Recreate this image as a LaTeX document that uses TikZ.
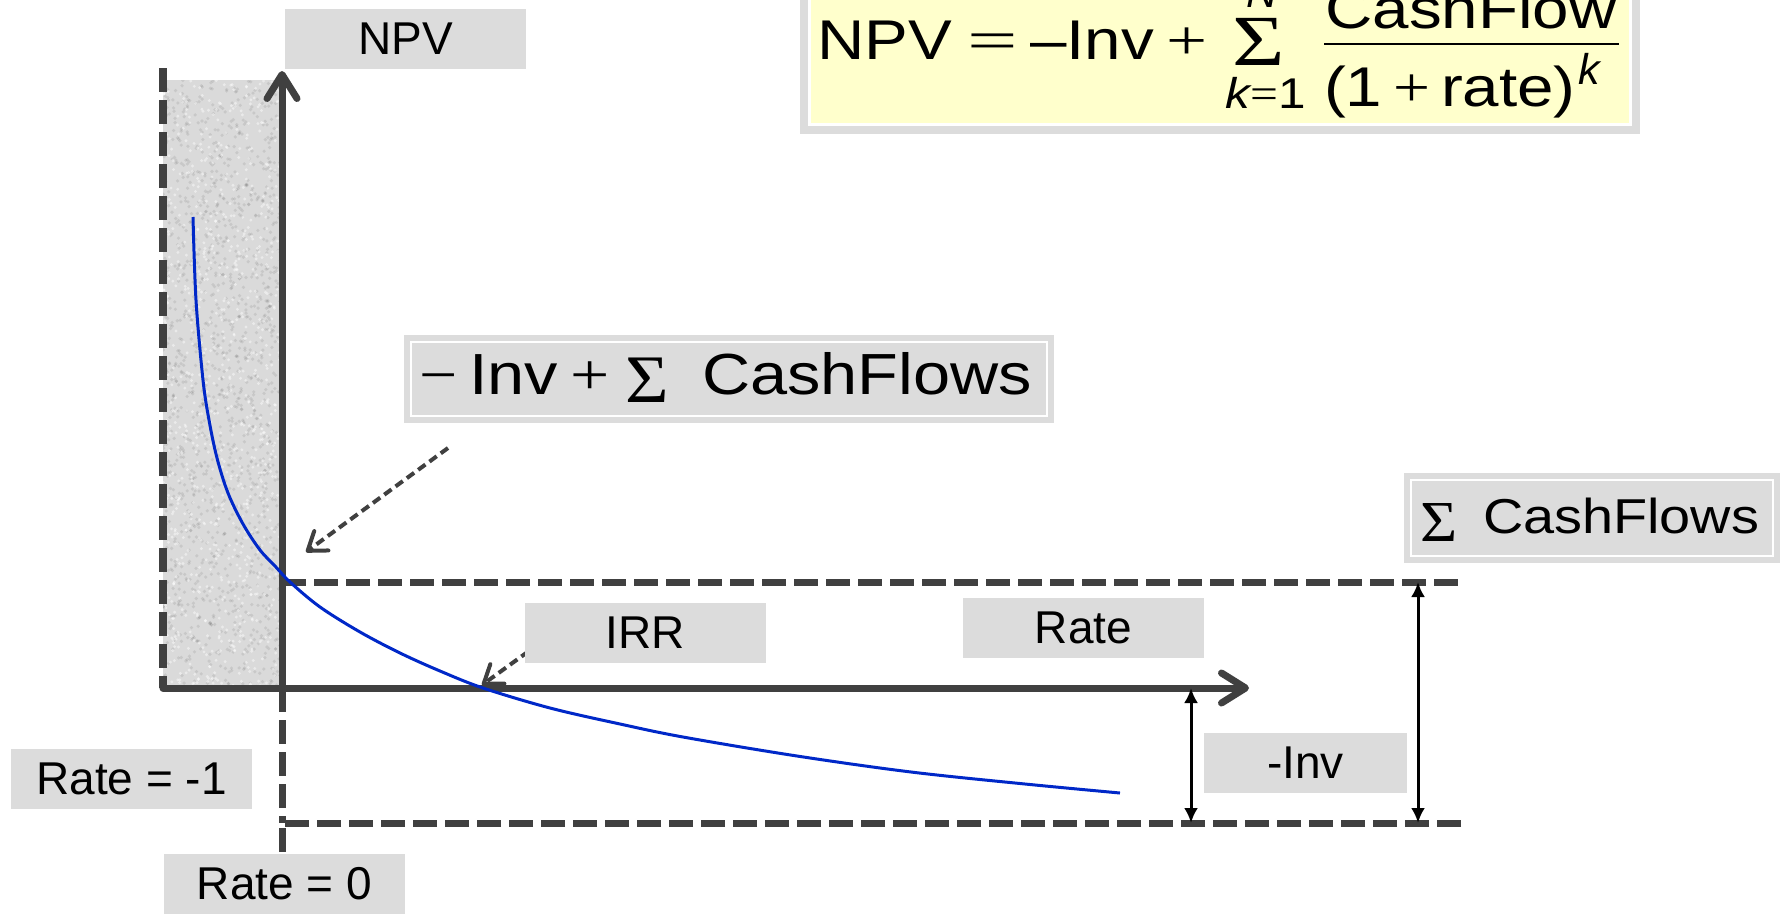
\documentclass[tikz,border=0pt]{standalone}
\usepackage{graphicx}
\usepackage{fontspec}
\setmainfont{Liberation Sans}
\newfontfamily\symfont{Liberation Serif}
\usetikzlibrary{arrows.meta}
\definecolor{lblgray}{RGB}{220,220,220}
\definecolor{shadegray}{RGB}{218,218,218}
\definecolor{axisgray}{RGB}{64,64,64}
\definecolor{curveblue}{RGB}{0,40,200}
\definecolor{formulayellow}{RGB}{255,255,204}
\begin{document}
\begin{tikzpicture}[x=1pt,y=-1pt,
  lbl/.style={fill=lblgray, inner sep=0pt, minimum height=60pt, font=\fontsize{46}{50}\selectfont},
  panel/.style={fill=lblgray, inner sep=0pt},
  axisline/.style={draw=axisgray, line width=7pt, line cap=round,
    -{Straight Barb[length=24pt,width=30pt,round]}},
  guide/.style={draw=axisgray, line width=7pt, dash pattern=on 24pt off 8pt},
  pointer/.style={draw=axisgray, line width=4pt, dash pattern=on 9pt off 5pt,
    -{Straight Barb[length=17pt,width=24pt,round]}},
  span/.style={draw=black, line width=3pt,
    {Latex[length=15pt,width=14pt]}-{Latex[length=15pt,width=14pt]}},
  piece/.style={anchor=base west, inner sep=0pt, outer sep=0pt},
  cpiece/.style={anchor=base, inner sep=0pt, outer sep=0pt},
]
\useasboundingbox (0,0) rectangle (1785,913);

% ---- formula panel ----
\fill[lblgray] (800,-12) rectangle (1640,134);
\filldraw[fill=formulayellow, draw=white, line width=3pt] (809.5,-12) rectangle (1630.5,124.5);
\node[piece] (fnpv) at (817,59) {\fontsize{56}{60}\selectfont\scalebox{1.17}[1]{NPV}};
\node[cpiece] (feq) at (993,59) {\symfont\fontsize{56}{60}\selectfont\scalebox{1.6}[1]{=}};
\node[piece] (finv) at (1030,59) {\fontsize{56}{60}\selectfont\scalebox{1.17}[1]{–Inv}};
\node[cpiece] (fplus) at (1187,59) {\symfont\fontsize{56}{60}\selectfont\scalebox{1.3}[1]{+}};
\node[cpiece] (fsum) at (1259,65) {\symfont\fontsize{72}{76}\selectfont\scalebox{1.25}[1]{Σ}};
\node[cpiece] (fupper) at (1262,7) {\fontsize{43}{46}\selectfont\itshape N};
\node[cpiece] (flower) at (1266,108) {\fontsize{43}{46}\selectfont\scalebox{1.15}[1]{\itshape k\upshape{\symfont =}1}};
\node[cpiece] (fnum) at (1471,28) {\fontsize{56}{60}\selectfont\scalebox{1.17}[1]{CashFlow}};
\coordinate (barL) at (1324,44);
\coordinate (barR) at (1619,44);
\draw[line width=2.5pt] (barL) -- (barR);
\node[piece] (fden) at (1324,106) {\fontsize{56}{60}\selectfont\scalebox{1.17}[1]{(1{\symfont\,+\,}rate)}};
\node[piece] (fexp) at (1578,84) {\fontsize{43}{46}\selectfont\itshape k};

% ---- shaded band between rate = -1 and rate = 0 ----
\begin{scope}
  \clip (163,80) rectangle (282,688);
  \fill[shadegray] (163,80) rectangle (282,688);
  \pgfmathsetseed{11}
  \foreach \i in {1,...,1400} {\fill[black, opacity=0.08] ({163+119*rnd},{80+608*rnd}) circle (1.8pt);}
  \foreach \i in {1,...,900} {\fill[white, opacity=0.45] ({163+119*rnd},{80+608*rnd}) circle (1.6pt);}
\end{scope}

% ---- key points ----
\coordinate (O) at (282,688);
\coordinate (ytip) at (282,71);
\coordinate (xstart) at (163,688);
\coordinate (xtip) at (1249,688);
\coordinate (lefttop) at (163,68);
\coordinate (sumL) at (282,582);
\coordinate (sumR) at (1461,582);
\coordinate (invL) at (282,823);
\coordinate (invR) at (1461,823);
\coordinate (zeroB) at (282,856);

% rate = -1 boundary
\draw[guide, line width=8pt] (lefttop) -- (xstart);
% guide lines
\draw[guide] (sumL) -- (sumR);
\draw[guide] (invR) -- (invL) -- (zeroB);
\draw[guide] (O) -- (invL);
% axes
\draw[axisline] (O) -- (ytip);
\draw[axisline] (xstart) -- (xtip);

% ---- NPV curve ----
\draw[curveblue, line width=3pt] plot[smooth, tension=0.55] coordinates {
  (193,217) (196,300) (203,380) (209,420) (217,458) (228,493) (243,524)
  (260,550) (275,566) (290,582) (320,607) (360,632) (400,653) (440,671)
  (483,688) (550,708) (620,724) (683,737) (797,756) (911,772) (1025,784) (1120,793)};

% ---- pointers ----
\coordinate (pA) at (448,448);
\coordinate (pAt) at (306,552);
\draw[pointer] (pA) -- (pAt);
\coordinate (pB) at (540,643);
\coordinate (pBt) at (482,685);
\draw[pointer] (pB) -- (pBt);

% ---- spans ----
\coordinate (s1t) at (1191,688);
\coordinate (s1b) at (1191,823);
\coordinate (s2t) at (1418,582);
\coordinate (s2b) at (1418,823);
\draw[span] (s1t) -- (s1b);
\draw[span] (s2t) -- (s2b);

% ---- labels ----
\node[lbl, minimum width=241pt] (npv) at (405.5,38.5) {NPV};
\node[lbl, minimum width=241pt] (irr) at (645.5,633) {IRR};
\node[lbl, minimum width=241pt] (rate) at (1083.5,627.5) {Rate};
\node[lbl, minimum width=203pt] (inv) at (1305.5,763) {-Inv};
\node[lbl, minimum width=241pt] (rm1) at (131.5,778.5) {Rate = -1};
\node[lbl, minimum width=241pt] (r0) at (284.5,884) {Rate = 0};

% ---- -Inv + sum CashFlows ----
\node[panel, minimum width=650pt, minimum height=88pt] (boxA) at (729,379) {};
\draw[white, line width=2pt] ([shift={(7.5,7.5)}]boxA.north west) rectangle ([shift={(-7.5,-7.5)}]boxA.south east);
\node[piece] (aminus) at (419,394) {\symfont\fontsize{58}{62}\selectfont\scalebox{1.17}[1]{−}};
\node[piece] (ainv) at (469,394) {\fontsize{58}{62}\selectfont\scalebox{1.15}[1]{Inv}};
\node[cpiece] (aplus) at (590,394) {\symfont\fontsize{58}{62}\selectfont\scalebox{1.2}[1]{+}};
\node[cpiece] (asum) at (647.5,402) {\symfont\fontsize{68}{72}\selectfont\scalebox{1.1}[1]{Σ}};
\node[piece] (acf) at (702,394) {\fontsize{58}{62}\selectfont\scalebox{1.15}[1]{CashFlows}};

% ---- sum CashFlows ----
\node[panel, minimum width=376pt, minimum height=90pt] (boxB) at (1592,518) {};
\draw[white, line width=2pt] ([shift={(7.5,7.5)}]boxB.north west) rectangle ([shift={(-7.5,-7.5)}]boxB.south east);
\node[cpiece] (bsum) at (1439,541) {\symfont\fontsize{58}{62}\selectfont\scalebox{1.1}[1]{Σ}};
\node[piece] (bcf) at (1483,533) {\fontsize{49}{52}\selectfont\scalebox{1.14}[1]{CashFlows}};
\end{tikzpicture}
\end{document}
